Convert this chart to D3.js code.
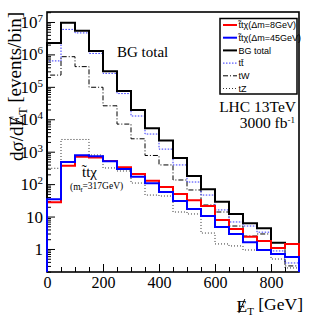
<!DOCTYPE html>
<html>
<head>
<meta charset="utf-8">
<script src="https://cdn.jsdelivr.net/npm/d3@7"></script>
<style>
  body { margin: 0; background: #fff; }
  svg { display: block; }
  text { font-family: "Liberation Serif", "DejaVu Serif", serif; fill: #000; }
</style>
</head>
<body>
<div id="app"></div>
<script>
// missing ET bins, 50 GeV wide, last bin ends at 900
const binLow = [0, 50, 100, 150, 200, 250, 300, 350, 400, 450, 500, 550, 600, 650, 700, 750, 800, 850];
const binEnd = 900;

// events / bin
const bgTotal = [2.25e6, 9.5e6, 5.4e6, 1.27e6, 3.0e5, 7.4e4, 1.93e4, 5.3e3, 2.2e3, 640, 178, 69, 28.7, 12, 6.2, 4.35, 1.56, 1.43];
const ttbar   = [6.3e5, 5.9e6, 4.6e6, 1.07e6, 2.6e5, 6.2e4, 1.26e4, 3.5e3, 1.2e3, 390, 116, 46, 16, 6.8, 5.1, 3.3, 0.87, 0.37];
const tW      = [2.3e5, 8.5e5, 4.2e5, 9.7e4, 2.6e4, 7.1e3, 2.5e3, 764, 390, 134, 66, 22.7, 13.8, 5.1, 2.5, 2.9, 1.07, 0.3];
const tZ      = [308, 2380, 2380, 790, 315, 254, 108, 46, 43, 13.8, 12, 3.1, 1.43, 1.24, 0.93, 0.93, 0.49, 0.26];
const sigDm8  = [27.5, 370, 702, 663, 517, 330, 205, 128, 82, 50, 32, 21, 7.8, 4.1, 2.4, 1.77, 1.07, 1.43];
const sigDm45 = [34, 482, 775, 722, 506, 293, 170, 106, 57, 30, 17, 10.4, 4.8, 2.9, 1.6, 0.93, 0.70, 0.57];

const xTicks = [0, 200, 400, 600, 800];
const xMinor = [50, 100, 150, 250, 300, 350, 450, 500, 550, 650, 700, 750, 850];
const yTicks = [1, 10, 1e2, 1e3, 1e4, 1e5, 1e6, 1e7];
const yTickBase = ['1', '10', '10', '10', '10', '10', '10', '10'];
const yTickExp = ['', '', '2', '3', '4', '5', '6', '7'];

const width = 315;
const height = 316;
const padL = 47, padR = 299, padT = 12, padB = 272;

const svg = d3.select('#app').append('svg')
  .attr('width', width)
  .attr('height', height);

const x = d3.scaleLinear().domain([0, binEnd]).range([padL, padR]);
const y = d3.scaleLog().domain([0.195, 2.03e7]).range([padB, padT]);
const yMin = y.domain()[0];

// minor log ticks 2..9 in every decade
const yMinor = [];
d3.range(-1, 8).forEach(e => {
  d3.range(2, 10).forEach(m => {
    const v = m * Math.pow(10, e);
    if (v > yMin && v < y.domain()[1]) yMinor.push(v);
  });
});

// axes
const styleAxis = g => {
  g.select('.domain').remove();
  g.selectAll('.tick line').attr('stroke', '#000').attr('stroke-width', 1);
  g.attr('font-family', null).attr('font-size', null);
};

svg.append('g')
  .attr('transform', `translate(0,${padB})`)
  .call(d3.axisBottom(x).tickValues(xMinor).tickSize(-5).tickFormat(''))
  .call(styleAxis);

svg.append('g')
  .attr('transform', `translate(0,${padB})`)
  .call(d3.axisBottom(x).tickValues(xTicks).tickSize(-8).tickPadding(5).tickFormat(d3.format('d')))
  .call(styleAxis)
  .call(g => g.selectAll('.tick text').style('font-size', '16px'));

svg.append('g')
  .attr('transform', `translate(${padL},0)`)
  .call(d3.axisLeft(y).tickValues(yMinor).tickSize(-4).tickFormat(''))
  .call(styleAxis);

svg.append('g')
  .attr('transform', `translate(${padL},0)`)
  .call(d3.axisLeft(y).tickValues(yTicks).tickSize(-8).tickPadding(4).tickFormat(''))
  .call(styleAxis)
  .call(g => g.selectAll('.tick text').each(function(d, i) {
    const t = d3.select(this).style('font-size', '17px');
    t.append('tspan').text(yTickBase[i]);
    if (yTickExp[i]) t.append('tspan').attr('dy', '-0.55em').style('font-size', '11px').text(yTickExp[i]);
  }));

// frame
svg.append('rect')
  .attr('x', padL).attr('y', padT)
  .attr('width', padR - padL).attr('height', padB - padT)
  .attr('fill', 'none').attr('stroke', '#000').attr('stroke-width', 1.6);

svg.append('clipPath').attr('id', 'clip')
  .append('rect')
  .attr('x', padL - 1.5).attr('y', padT).attr('width', padR - padL + 3).attr('height', padB - padT + 1);

const histLine = d3.line()
  .x(d => x(d[0]))
  .y(d => y(d[1]))
  .curve(d3.curveStepAfter);

const toSteps = vals => {
  const pts = [[0, yMin]];
  vals.forEach((v, i) => pts.push([binLow[i], v]));
  pts.push([binEnd, vals[vals.length - 1]]);
  pts.push([binEnd, yMin]);
  return pts;
};

const series = [
  { name: 'tZ', values: tZ, color: '#333', width: 1, dash: '1,2' },
  { name: 'tW', values: tW, color: '#000', width: 1, dash: '5,2,1,2' },
  { name: 'tt', values: ttbar, color: '#3333ff', width: 1, dash: '1.5,1.5' },
  { name: 'BG total', values: bgTotal, color: '#000', width: 2, dash: null },
  { name: 'dm8', values: sigDm8, color: '#ff0000', width: 2, dash: null },
  { name: 'dm45', values: sigDm45, color: '#0000ff', width: 2, dash: null }
];

const plot = svg.append('g').attr('clip-path', 'url(#clip)');
plot.selectAll('path')
  .data(series)
  .enter()
  .append('path')
  .attr('d', d => histLine(toSteps(d.values)))
  .attr('fill', 'none')
  .attr('stroke', d => d.color)
  .attr('stroke-width', d => d.width)
  .attr('stroke-dasharray', d => d.dash);

// in-plot labels
svg.append('text').attr('x', 117).attr('y', 56.5).style('font-size', '15px').text('BG total');
svg.append('text').attr('x', 296).attr('y', 111.5).attr('text-anchor', 'end').style('font-size', '15.5px').text('LHC 13TeV');
const lumi = svg.append('text').attr('x', 295).attr('y', 128).attr('text-anchor', 'end').style('font-size', '15.5px');
lumi.append('tspan').text('3000 fb');
lumi.append('tspan').attr('dy', '-0.55em').style('font-size', '9px').text('-1');

svg.append('text').attr('x', 82).attr('y', 177).style('font-size', '15px').text('t\u0303t\u03c7');
const mass = svg.append('text').attr('x', 70).attr('y', 190).style('font-size', '9.5px');
mass.append('tspan').text('(m');
mass.append('tspan').attr('dy', '0.35em').style('font-size', '7px').text('t\u0303');
mass.append('tspan').attr('dy', '-0.35em').text('=317GeV)');

// slash across the E of missing ET
const slashE = (parent, textSel, idx, fs) => {
  const ex = textSel.node().getExtentOfChar(idx);
  parent.append('line')
    .attr('x1', ex.x + ex.width * 0.78).attr('y1', -0.74 * fs)
    .attr('x2', ex.x + ex.width * 0.22).attr('y2', 0.06 * fs)
    .attr('stroke', '#000').attr('stroke-width', 1);
};

const xT = svg.append('g').attr('transform', 'translate(303,312)');
const xTitle = xT.append('text').attr('text-anchor', 'end').style('font-size', '17.5px');
xTitle.append('tspan').text('E');
xTitle.append('tspan').attr('dy', '0.3em').style('font-size', '11px').text('T');
xTitle.append('tspan').attr('dy', '-0.3em').text(' [GeV]');
slashE(xT, xTitle, 0, 17.5);

const yT = svg.append('g').attr('transform', `translate(23,${padT}) rotate(-90)`);
const yTitle = yT.append('text').attr('text-anchor', 'end').style('font-size', '19px');
yTitle.append('tspan').text('d\u03c3/dE');
yTitle.append('tspan').attr('dy', '0.3em').style('font-size', '12px').text('T');
yTitle.append('tspan').attr('dy', '-0.3em').text(' [events/bin]');
slashE(yT, yTitle, 4, 19);

// legend
const legendItems = [
  { label: 't\u0303t\u03c7(\u0394m=8GeV)', s: series[4] },
  { label: 't\u0303t\u03c7(\u0394m=45GeV)', s: series[5] },
  { label: 'BG total', s: series[3] },
  { label: 'tt\u0304', s: series[2] },
  { label: 'tW', s: series[1] },
  { label: 'tZ', s: series[0] }
];
const legend = svg.append('g');
legend.append('rect')
  .attr('x', 220).attr('y', 18.5).attr('width', 77).attr('height', 75.5)
  .attr('fill', '#fff').attr('stroke', '#000').attr('stroke-width', 1.5);
const rows = legend.selectAll('g.row')
  .data(legendItems)
  .enter()
  .append('g')
  .attr('class', 'row')
  .attr('transform', (d, i) => `translate(0,${25 + i * 12.7})`);
rows.append('line')
  .attr('x1', 223).attr('x2', 237)
  .attr('stroke', d => d.s.color)
  .attr('stroke-width', d => d.s.width)
  .attr('stroke-dasharray', d => d.s.dash);
rows.append('text')
  .attr('x', 238.5).attr('dy', '0.35em')
  .style('font-family', '"Liberation Sans", Arial, sans-serif')
  .style('font-size', '9px')
  .text(d => d.label);
</script>
</body>
</html>
